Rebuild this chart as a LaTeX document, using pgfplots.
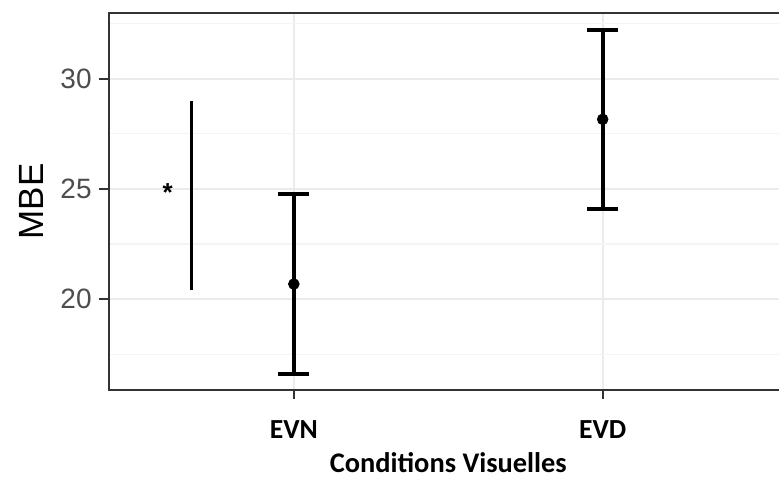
\documentclass[border=0pt]{standalone}
\usepackage{fontspec}
\setmainfont{Liberation Sans}
\newfontfamily\carlito{Carlito}
\usepackage{pgfplots}
\pgfplotsset{compat=1.18}
\definecolor{gridmaj}{HTML}{EBEBEB}
\definecolor{gridmin}{HTML}{F4F4F4}
\definecolor{frame}{HTML}{333333}
\definecolor{ticktext}{HTML}{4D4D4D}

\begin{document}
\begin{tikzpicture}
% the reference is cut off a little to the right of the panel
\clip (-54.25pt,-43pt) rectangle (335.25pt,195pt);
\begin{axis}[
    scale only axis,
    width=339.75pt, height=188.65pt,
    xmin=0.4, xmax=2.6,
    ymin=15.87, ymax=33.0,
    xtick={1,2}, xticklabels={EVN,EVD},
    ytick={20,25,30},
    minor ytick={17.5,22.5,27.5,32.5},
    xtick pos=lower, ytick pos=left,
    grid=both,
    major grid style={gridmaj, line width=1.1pt},
    minor grid style={gridmin, line width=0.55pt},
    tick align=outside,
    major tick length=4.5pt, minor tick length=0pt,
    tick style={frame, line width=1.1pt},
    axis line style={frame, line width=1pt},
    /pgf/number format/assume math mode=true,
    yticklabel style={font=\fontsize{14}{14}\selectfont, color=ticktext, anchor=east, inner sep=0pt, xshift=-3.75pt},
    xticklabel style={font=\carlito\bfseries\fontsize{13.8}{14}\selectfont, anchor=base, inner sep=0pt, yshift=-19.75pt},
    xlabel={Conditions Visuelles},
    xlabel style={font=\carlito\bfseries\fontsize{14.2}{14}\selectfont, at={(axis description cs:0.5,0)}, anchor=base, yshift=-41pt, inner sep=0pt},
    ylabel={MBE},
    ylabel style={font=\fontsize{17.5}{18}\selectfont, at={(axis description cs:0,0.5)}, anchor=center, yshift=38.75pt, inner sep=0pt},
]
% significance bar and star
\addplot[black, line width=1.5pt] coordinates {(0.67,20.4) (0.67,29.0)};
\node[font=\bfseries\fontsize{13}{13}\selectfont, anchor=base, yshift=-6pt] at (axis cs:0.592,24.96) {*};

% means with error bars
\addplot[black, only marks, mark=*, mark size=2.67pt,
    error bars/.cd, y dir=both, y explicit,
    error mark=|,
    error bar style={line width=1.9pt},
    error mark options={line width=1.9pt, mark size=7.75pt}]
    coordinates {
        (1,20.68) +- (0,4.09)
        (2,28.16) +- (0,4.07)
    };
\end{axis}
\end{tikzpicture}
\end{document}
